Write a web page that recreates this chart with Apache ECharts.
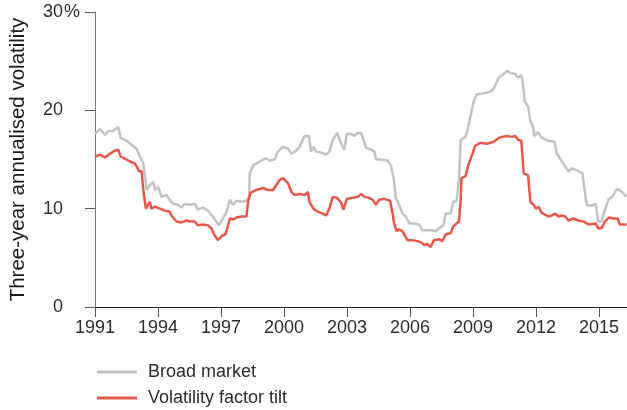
<!DOCTYPE html>
<html>
<head>
<meta charset="utf-8">
<script src="https://cdn.jsdelivr.net/npm/echarts@6/dist/echarts.min.js"></script>
<style>
  html, body { margin: 0; padding: 0; background: #fff; }
  #chart { width: 627px; height: 410px; }
</style>
</head>
<body>
<div id="chart"></div>
<script>
// [decimal year, volatility %]
const broadMarket = [
  [1991.00, 17.6], [1991.24, 18.1], [1991.48, 17.5], [1991.64, 17.9], [1991.87, 17.9],
  [1992.11, 18.3], [1992.22, 17.2], [1992.51, 16.9], [1992.74, 16.5], [1992.98, 16.1],
  [1993.14, 15.3], [1993.30, 14.6], [1993.38, 13.3], [1993.46, 11.9], [1993.61, 12.4],
  [1993.77, 12.7], [1993.85, 11.9], [1994.01, 12.2], [1994.17, 11.2], [1994.40, 11.4],
  [1994.56, 10.9], [1994.72, 10.5], [1994.95, 10.4], [1995.11, 10.1], [1995.27, 10.5],
  [1995.51, 10.4], [1995.75, 10.5], [1995.90, 9.9], [1996.14, 10.1], [1996.38, 9.8],
  [1996.61, 9.2], [1996.90, 8.3], [1997.09, 9.0], [1997.25, 9.6], [1997.42, 10.9],
  [1997.58, 10.4], [1997.74, 10.8], [1997.97, 10.7], [1998.21, 10.8], [1998.34, 11.2],
  [1998.37, 13.6], [1998.53, 14.4], [1998.77, 14.7], [1999.00, 15.0], [1999.16, 15.1],
  [1999.32, 14.9], [1999.55, 15.0], [1999.71, 15.8], [1999.95, 16.3], [2000.19, 16.1],
  [2000.35, 15.6], [2000.58, 15.9], [2000.74, 16.3], [2000.98, 17.4], [2001.18, 17.4],
  [2001.29, 15.8], [2001.40, 16.3], [2001.53, 15.8], [2001.77, 15.7], [2002.00, 15.5],
  [2002.16, 15.8], [2002.32, 17.0], [2002.53, 17.7], [2002.72, 16.6], [2002.87, 16.0],
  [2002.99, 17.6], [2003.19, 17.6], [2003.35, 17.4], [2003.51, 17.7], [2003.67, 17.7],
  [2003.90, 16.2], [2004.14, 16.0], [2004.30, 15.8], [2004.38, 15.0], [2004.61, 15.0],
  [2004.93, 14.9], [2005.09, 14.4], [2005.22, 13.1], [2005.32, 11.1], [2005.48, 10.4],
  [2005.64, 9.5], [2005.80, 9.2], [2005.96, 8.5], [2006.19, 8.5], [2006.43, 8.4],
  [2006.59, 7.8], [2006.83, 7.8], [2007.06, 7.8], [2007.22, 7.7], [2007.38, 8.0],
  [2007.59, 8.3], [2007.70, 9.5], [2007.93, 9.5], [2008.06, 10.7], [2008.22, 10.8],
  [2008.33, 12.9], [2008.41, 17.0], [2008.64, 17.3], [2008.72, 17.9], [2008.88, 19.4],
  [2009.01, 20.7], [2009.16, 21.6], [2009.43, 21.7], [2009.67, 21.8], [2009.91, 22.0],
  [2010.07, 22.6], [2010.22, 23.3], [2010.46, 23.7], [2010.62, 24.0], [2010.78, 23.8],
  [2011.01, 23.7], [2011.14, 23.3], [2011.30, 23.6], [2011.36, 22.9], [2011.46, 20.9],
  [2011.62, 20.4], [2011.73, 18.9], [2011.83, 18.5], [2011.93, 17.4], [2012.09, 17.8],
  [2012.28, 17.2], [2012.59, 16.9], [2012.88, 16.8], [2012.99, 15.6], [2013.23, 14.8],
  [2013.39, 14.3], [2013.54, 13.8], [2013.70, 14.1], [2013.94, 13.9], [2014.21, 13.6],
  [2014.30, 12.1], [2014.41, 10.4], [2014.65, 10.3], [2014.84, 10.5], [2014.96, 8.7],
  [2015.12, 8.7], [2015.28, 9.9], [2015.44, 10.9], [2015.63, 11.2], [2015.84, 12.0],
  [2016.04, 11.8], [2016.31, 11.2]
]

const volatilityTilt = [
  [1991.00, 15.3], [1991.24, 15.5], [1991.48, 15.2], [1991.72, 15.6], [1991.95, 15.9],
  [1992.11, 16.0], [1992.22, 15.3], [1992.51, 15.0], [1992.66, 14.8], [1992.90, 14.6],
  [1992.98, 14.3], [1993.11, 13.8], [1993.22, 13.8], [1993.30, 11.9], [1993.42, 10.0],
  [1993.61, 10.7], [1993.69, 10.0], [1993.85, 10.2], [1994.09, 10.0], [1994.32, 9.8],
  [1994.56, 9.7], [1994.64, 9.3], [1994.88, 8.7], [1995.11, 8.6], [1995.35, 8.8],
  [1995.51, 8.7], [1995.75, 8.7], [1995.90, 8.3], [1996.14, 8.4], [1996.38, 8.3],
  [1996.54, 8.0], [1996.69, 7.3], [1996.85, 6.8], [1996.93, 6.7], [1997.09, 7.3],
  [1997.22, 7.4], [1997.26, 7.5], [1997.42, 9.0], [1997.58, 8.9], [1997.74, 9.1],
  [1997.97, 9.2], [1998.21, 9.2], [1998.29, 10.7], [1998.40, 11.6], [1998.69, 11.9],
  [1999.00, 12.1], [1999.24, 11.9], [1999.48, 11.9], [1999.63, 12.4], [1999.79, 12.9],
  [1999.95, 13.1], [2000.19, 12.6], [2000.35, 11.7], [2000.50, 11.4], [2000.74, 11.5],
  [2000.98, 11.4], [2001.14, 11.7], [2001.21, 10.7], [2001.34, 10.2], [2001.45, 9.9],
  [2001.61, 9.7], [2001.85, 9.5], [2002.00, 9.3], [2002.16, 10.0], [2002.32, 11.2],
  [2002.53, 11.1], [2002.72, 10.6], [2002.83, 9.9], [2002.99, 11.0], [2003.27, 11.1],
  [2003.51, 11.2], [2003.67, 11.5], [2003.82, 11.2], [2004.06, 11.1], [2004.22, 10.9],
  [2004.38, 10.4], [2004.53, 10.9], [2004.77, 11.0], [2005.05, 10.8], [2005.17, 9.5],
  [2005.24, 8.5], [2005.37, 7.7], [2005.48, 7.9], [2005.64, 7.7], [2005.88, 6.8],
  [2006.12, 6.8], [2006.35, 6.7], [2006.51, 6.6], [2006.67, 6.3], [2006.83, 6.4],
  [2006.98, 6.1], [2007.14, 6.8], [2007.38, 6.9], [2007.54, 6.7], [2007.70, 7.4],
  [2007.93, 7.5], [2008.06, 8.2], [2008.22, 8.5], [2008.33, 8.7], [2008.41, 10.9],
  [2008.45, 13.1], [2008.64, 13.3], [2008.80, 14.6], [2008.96, 15.5], [2009.10, 16.4],
  [2009.35, 16.7], [2009.67, 16.6], [2009.99, 16.8], [2010.22, 17.2], [2010.38, 17.3],
  [2010.62, 17.4], [2010.86, 17.3], [2011.01, 17.4], [2011.14, 17.0], [2011.30, 16.9],
  [2011.41, 13.6], [2011.62, 13.4], [2011.73, 10.7], [2011.88, 10.4], [2011.99, 10.0],
  [2012.12, 10.2], [2012.25, 9.6], [2012.44, 9.4], [2012.59, 9.2], [2012.75, 9.3],
  [2012.91, 9.5], [2013.07, 9.2], [2013.23, 9.3], [2013.39, 9.2], [2013.54, 8.8],
  [2013.78, 9.0], [2014.02, 8.8], [2014.25, 8.7], [2014.49, 8.4], [2014.84, 8.5],
  [2014.96, 8.0], [2015.12, 8.0], [2015.28, 8.7], [2015.47, 9.1], [2015.68, 9.0],
  [2015.88, 9.0], [2015.99, 8.4], [2016.31, 8.4]
]

const yearTicks = [1991, 1994, 1997, 2000, 2003, 2006, 2009, 2012, 2015]
const seriesNames = ['Broad market', 'Volatility factor tilt']

const chart = echarts.init(document.getElementById('chart'))
const font = 'Liberation Sans, Arial, sans-serif'
const textCol = '#2b2b2b'
const labelMargin = 32

// one legend per row so the rows sit where the original has them
const legendRow = (name, top) => ({
  orient: 'vertical',
  left: 92,
  top: top,
  icon: 'rect',
  itemWidth: 40,
  itemHeight: 3,
  textStyle: { fontSize: 18, color: textCol, fontFamily: font, padding: [0, 0, 0, 6] },
  data: [name]
})

chart.setOption({
  animation: false,
  textStyle: { fontFamily: font },
  grid: { left: 93, right: 0, top: 12, bottom: 103 },
  legend: [legendRow(seriesNames[0], 358), legendRow(seriesNames[1], 384)],
  xAxis: {
    type: 'value',
    min: 1991,
    max: 2016.33,
    interval: 3,
    axisLine: { lineStyle: { color: '#222', width: 1 } },
    axisTick: { length: 10, lineStyle: { color: '#555' } },
    splitLine: { show: false },
    axisLabel: {
      fontSize: 18,
      color: textCol,
      margin: 12,
      showMaxLabel: false,
      formatter: (v) => (yearTicks.includes(v) ? String(v) : '')
    }
  },
  yAxis: {
    type: 'value',
    min: 0,
    max: 30,
    interval: 10,
    name: 'Three-year annualised volatility',
    nameLocation: 'middle',
    nameGap: 66,
    nameTextStyle: { fontSize: 20.5, color: '#1a1a1a', fontFamily: font },
    axisLine: { show: true, lineStyle: { color: '#777', width: 1 } },
    axisTick: { show: true, length: 10, lineStyle: { color: '#555' } },
    splitLine: { show: false },
    axisLabel: {
      fontSize: 18,
      color: textCol,
      margin: labelMargin
    }
  },
  series: [
    {
      name: seriesNames[0],
      type: 'line',
      data: broadMarket,
      showSymbol: false,
      symbol: 'none',
      lineStyle: { color: '#c3c3c3', width: 2.5 },
      itemStyle: { color: '#c3c3c3' }
    },
    {
      name: seriesNames[1],
      type: 'line',
      data: volatilityTilt,
      showSymbol: false,
      symbol: 'none',
      lineStyle: { color: '#e8574b', width: 2.5 },
      itemStyle: { color: '#e8574b' }
    }
  ]
})

// the % sign hangs to the right of the top tick label, as in the original
const topTick = chart.convertToPixel({ gridIndex: 0 }, [1991, 30])
chart.setOption({
  graphic: [{
    type: 'text',
    x: topTick[0] - labelMargin + 1,
    y: topTick[1],
    style: {
      text: '%',
      fontSize: 18,
      fontFamily: font,
      fill: textCol,
      textAlign: 'left',
      textVerticalAlign: 'middle'
    }
  }]
})
</script>
</body>
</html>
